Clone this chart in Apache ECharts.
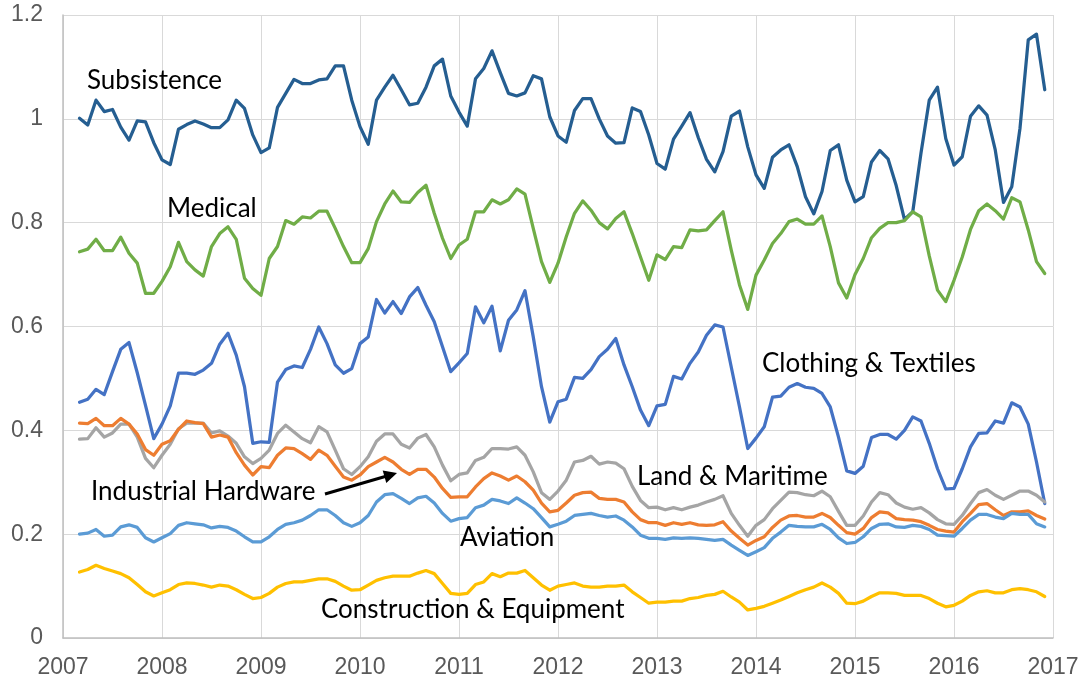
<!DOCTYPE html>
<html lang="en">
<head>
    <meta charset="UTF-8">
    <title>Monthly index by supply chain</title>
    <script src="https://cdn.jsdelivr.net/npm/echarts@6/dist/echarts.min.js"></script>
    <style>
        html, body { margin: 0; padding: 0; background: #fff; }
        #chart { width: 1084px; height: 679px; }
    </style>
</head>
<body>
    <div id="chart"></div>
    <script>
        // monthly values, first point is March 2007
        const startYear = 2007;
        const startMonth = 3;

        const subsistence = [
            1.001, 0.988, 1.036, 1.014, 1.018, 0.984, 0.959, 0.996, 0.994, 0.954, 0.921, 0.912,
            0.980, 0.989, 0.996, 0.990, 0.983, 0.983, 0.998, 1.036, 1.020, 0.969, 0.935, 0.944,
            1.022, 1.049, 1.076, 1.068, 1.068, 1.075, 1.077, 1.102, 1.102, 1.036, 0.985, 0.951,
            1.036, 1.061, 1.084, 1.056, 1.027, 1.030, 1.061, 1.102, 1.115, 1.044, 1.013, 0.986,
            1.077, 1.097, 1.131, 1.089, 1.049, 1.044, 1.050, 1.083, 1.077, 1.004, 0.967, 0.955,
            1.016, 1.039, 1.039, 1.000, 0.967, 0.953, 0.954, 1.021, 1.014, 0.969, 0.914, 0.903,
            0.961, 0.986, 1.012, 0.964, 0.922, 0.898, 0.937, 1.005, 1.015, 0.946, 0.892, 0.866,
            0.926, 0.940, 0.950, 0.908, 0.850, 0.817, 0.860, 0.939, 0.950, 0.882, 0.840, 0.850,
            0.917, 0.939, 0.923, 0.871, 0.806, 0.821, 0.934, 1.036, 1.061, 0.962, 0.911, 0.927,
            1.005, 1.025, 1.007, 0.940, 0.839, 0.869, 0.982, 1.152, 1.163, 1.056
        ];
        const medical = [
            0.744, 0.749, 0.768, 0.746, 0.746, 0.772, 0.741, 0.722, 0.664, 0.664, 0.687, 0.715,
            0.762, 0.725, 0.709, 0.697, 0.754, 0.779, 0.792, 0.768, 0.693, 0.673, 0.660, 0.731,
            0.754, 0.804, 0.797, 0.811, 0.809, 0.822, 0.822, 0.789, 0.754, 0.723, 0.723, 0.750,
            0.802, 0.836, 0.861, 0.840, 0.839, 0.858, 0.872, 0.818, 0.770, 0.731, 0.757, 0.768,
            0.821, 0.821, 0.844, 0.836, 0.844, 0.865, 0.855, 0.789, 0.725, 0.685, 0.722, 0.773,
            0.818, 0.842, 0.824, 0.800, 0.788, 0.808, 0.821, 0.779, 0.734, 0.689, 0.738, 0.729,
            0.754, 0.752, 0.786, 0.784, 0.786, 0.804, 0.821, 0.747, 0.680, 0.633, 0.699, 0.728,
            0.760, 0.779, 0.802, 0.807, 0.797, 0.797, 0.813, 0.754, 0.684, 0.655, 0.700, 0.731,
            0.771, 0.789, 0.800, 0.800, 0.804, 0.821, 0.811, 0.736, 0.670, 0.648, 0.689, 0.734,
            0.787, 0.823, 0.836, 0.823, 0.807, 0.848, 0.840, 0.786, 0.725, 0.702
        ];
        const clothing = [
            0.454, 0.460, 0.479, 0.469, 0.513, 0.556, 0.569, 0.511, 0.448, 0.384, 0.412, 0.447,
            0.510, 0.510, 0.508, 0.516, 0.529, 0.566, 0.587, 0.545, 0.484, 0.375, 0.378, 0.377,
            0.493, 0.517, 0.524, 0.521, 0.556, 0.599, 0.567, 0.526, 0.510, 0.519, 0.567, 0.580,
            0.652, 0.626, 0.648, 0.625, 0.657, 0.675, 0.641, 0.609, 0.561, 0.513, 0.530, 0.548,
            0.638, 0.607, 0.639, 0.553, 0.612, 0.632, 0.669, 0.580, 0.484, 0.416, 0.455, 0.460,
            0.502, 0.500, 0.517, 0.542, 0.556, 0.577, 0.526, 0.484, 0.439, 0.409, 0.447, 0.450,
            0.504, 0.499, 0.529, 0.551, 0.583, 0.603, 0.599, 0.522, 0.445, 0.365, 0.385, 0.407,
            0.464, 0.466, 0.483, 0.490, 0.483, 0.481, 0.471, 0.445, 0.387, 0.322, 0.317, 0.331,
            0.386, 0.392, 0.392, 0.383, 0.400, 0.426, 0.418, 0.375, 0.326, 0.287, 0.288, 0.326,
            0.368, 0.394, 0.395, 0.418, 0.414, 0.453, 0.445, 0.412, 0.339, 0.259
        ];
        const landMaritime = [
            0.383, 0.384, 0.405, 0.387, 0.395, 0.412, 0.412, 0.387, 0.346, 0.328, 0.352, 0.373,
            0.403, 0.414, 0.414, 0.414, 0.395, 0.399, 0.389, 0.375, 0.349, 0.336, 0.346, 0.362,
            0.394, 0.410, 0.397, 0.384, 0.376, 0.407, 0.397, 0.362, 0.326, 0.315, 0.330, 0.349,
            0.379, 0.393, 0.393, 0.373, 0.366, 0.385, 0.392, 0.368, 0.333, 0.303, 0.315, 0.318,
            0.342, 0.348, 0.365, 0.365, 0.364, 0.368, 0.352, 0.320, 0.280, 0.267, 0.283, 0.304,
            0.339, 0.342, 0.350, 0.335, 0.339, 0.337, 0.326, 0.292, 0.265, 0.251, 0.252, 0.247,
            0.251, 0.247, 0.252, 0.256, 0.262, 0.267, 0.274, 0.240, 0.217, 0.196, 0.217, 0.228,
            0.249, 0.265, 0.281, 0.280, 0.276, 0.274, 0.283, 0.272, 0.244, 0.217, 0.217, 0.235,
            0.262, 0.280, 0.276, 0.260, 0.252, 0.248, 0.251, 0.241, 0.228, 0.220, 0.219, 0.236,
            0.259, 0.280, 0.286, 0.275, 0.267, 0.275, 0.283, 0.283, 0.275, 0.262
        ];
        const industrial = [
            0.414, 0.413, 0.423, 0.409, 0.409, 0.423, 0.412, 0.393, 0.363, 0.352, 0.373, 0.380,
            0.402, 0.418, 0.415, 0.413, 0.387, 0.391, 0.387, 0.357, 0.333, 0.314, 0.330, 0.328,
            0.352, 0.366, 0.365, 0.355, 0.344, 0.362, 0.352, 0.331, 0.310, 0.304, 0.314, 0.330,
            0.339, 0.348, 0.339, 0.325, 0.315, 0.325, 0.325, 0.310, 0.288, 0.271, 0.272, 0.272,
            0.291, 0.307, 0.318, 0.312, 0.304, 0.312, 0.301, 0.285, 0.260, 0.243, 0.246, 0.260,
            0.275, 0.280, 0.281, 0.269, 0.267, 0.267, 0.262, 0.243, 0.228, 0.222, 0.222, 0.217,
            0.222, 0.219, 0.222, 0.218, 0.217, 0.218, 0.224, 0.206, 0.192, 0.179, 0.188, 0.195,
            0.213, 0.227, 0.235, 0.236, 0.233, 0.233, 0.240, 0.232, 0.217, 0.203, 0.200, 0.211,
            0.232, 0.243, 0.241, 0.230, 0.228, 0.227, 0.224, 0.217, 0.209, 0.206, 0.204, 0.224,
            0.240, 0.257, 0.259, 0.247, 0.236, 0.243, 0.243, 0.245, 0.236, 0.229
        ];
        const aviation = [
            0.200, 0.202, 0.209, 0.196, 0.198, 0.214, 0.218, 0.213, 0.193, 0.185, 0.193, 0.201,
            0.217, 0.222, 0.220, 0.218, 0.212, 0.215, 0.213, 0.206, 0.195, 0.185, 0.185, 0.195,
            0.209, 0.219, 0.222, 0.227, 0.236, 0.247, 0.247, 0.236, 0.222, 0.215, 0.222, 0.236,
            0.262, 0.276, 0.278, 0.269, 0.259, 0.270, 0.273, 0.260, 0.240, 0.225, 0.230, 0.232,
            0.251, 0.256, 0.267, 0.264, 0.259, 0.270, 0.260, 0.249, 0.232, 0.214, 0.219, 0.225,
            0.236, 0.238, 0.240, 0.236, 0.233, 0.235, 0.227, 0.214, 0.198, 0.192, 0.192, 0.190,
            0.193, 0.192, 0.193, 0.192, 0.190, 0.188, 0.190, 0.179, 0.169, 0.159, 0.166, 0.174,
            0.192, 0.204, 0.217, 0.215, 0.214, 0.214, 0.219, 0.209, 0.193, 0.182, 0.184, 0.195,
            0.211, 0.219, 0.220, 0.214, 0.213, 0.217, 0.215, 0.209, 0.198, 0.197, 0.196, 0.211,
            0.227, 0.238, 0.238, 0.233, 0.230, 0.240, 0.238, 0.238, 0.220, 0.214
        ];
        const construction = [
            0.127, 0.132, 0.140, 0.134, 0.129, 0.124, 0.116, 0.103, 0.089, 0.081, 0.087, 0.093,
            0.103, 0.106, 0.105, 0.102, 0.098, 0.102, 0.100, 0.093, 0.084, 0.076, 0.078, 0.086,
            0.098, 0.105, 0.108, 0.108, 0.111, 0.114, 0.114, 0.109, 0.100, 0.092, 0.093, 0.102,
            0.111, 0.116, 0.119, 0.119, 0.119, 0.125, 0.130, 0.124, 0.105, 0.086, 0.084, 0.086,
            0.103, 0.108, 0.124, 0.118, 0.125, 0.125, 0.130, 0.116, 0.102, 0.092, 0.100, 0.103,
            0.106, 0.100, 0.098, 0.098, 0.100, 0.100, 0.102, 0.089, 0.078, 0.067, 0.069, 0.069,
            0.071, 0.071, 0.076, 0.078, 0.082, 0.084, 0.090, 0.079, 0.069, 0.054, 0.057, 0.061,
            0.067, 0.073, 0.080, 0.087, 0.093, 0.098, 0.106, 0.098, 0.086, 0.067, 0.066, 0.071,
            0.080, 0.087, 0.087, 0.086, 0.082, 0.082, 0.082, 0.076, 0.067, 0.060, 0.063, 0.071,
            0.082, 0.089, 0.091, 0.087, 0.087, 0.093, 0.095, 0.093, 0.089, 0.080
        ];

        const yearTicks = { min: 2007, max: 2017, step: 1 };
        const valueTicks = { min: 0, max: 1.2, step: 0.2 };

        // x position of each month as a decimal year
        function monthX(i) {
            return startYear + (startMonth - 1 + i) / 12;
        }
        function pairs(values) {
            return values.map((v, i) => [monthX(i), v]);
        }

        const seriesDefs = [
            { name: 'Subsistence', data: subsistence, color: '#255e91' },
            { name: 'Medical', data: medical, color: '#70ad47' },
            { name: 'Clothing & Textiles', data: clothing, color: '#4472c4' },
            { name: 'Land & Maritime', data: landMaritime, color: '#a5a5a5' },
            { name: 'Industrial Hardware', data: industrial, color: '#ed7d31' },
            { name: 'Aviation', data: aviation, color: '#5b9bd5' },
            { name: 'Construction & Equipment', data: construction, color: '#ffc000' }
        ];

        const labelFont = '26px Lato, "Open Sans", sans-serif';
        function label(text, x, y) {
            return {
                type: 'text',
                x: x,
                y: y,
                z: 100,
                style: {
                    text: text,
                    font: labelFont,
                    fill: '#000',
                    textAlign: 'left',
                    textVerticalAlign: 'middle',
                    align: 'left',
                    verticalAlign: 'middle'
                }
            };
        }

        const chart = echarts.init(document.getElementById('chart'), null, { renderer: 'canvas' });
        chart.setOption({
            animation: false,
            backgroundColor: '#fff',
            grid: { left: 63, right: 31, top: 15, bottom: 41 },
            xAxis: {
                type: 'value',
                min: yearTicks.min,
                max: yearTicks.max,
                interval: yearTicks.step,
                axisLine: { show: true, lineStyle: { color: '#bfbfbf', width: 1.5 } },
                axisTick: { show: false },
                splitLine: { show: true, lineStyle: { color: '#d9d9d9', width: 1 } },
                axisLabel: {
                    margin: 18,
                    color: '#595959',
                    fontSize: 23,
                    fontFamily: '"Liberation Sans", Arial, sans-serif',
                    formatter: v => String(v)
                }
            },
            yAxis: {
                type: 'value',
                min: valueTicks.min,
                max: valueTicks.max,
                interval: valueTicks.step,
                axisLine: { show: true, lineStyle: { color: '#bfbfbf', width: 1.5 } },
                axisTick: { show: false },
                splitLine: { show: true, lineStyle: { color: '#d9d9d9', width: 1 } },
                axisLabel: {
                    margin: 20,
                    color: '#595959',
                    fontSize: 23,
                    fontFamily: '"Liberation Sans", Arial, sans-serif',
                    formatter: v => String(Math.round(v * 10) / 10)
                }
            },
            series: seriesDefs.map(s => ({
                name: s.name,
                type: 'line',
                data: pairs(s.data),
                showSymbol: false,
                symbol: 'none',
                color: s.color,
                lineStyle: { color: s.color, width: 3.25, join: 'round', cap: 'round' },
                emphasis: { disabled: true }
            })),
            graphic: [
                label('Subsistence', 87, 81),
                label('Medical', 167, 209),
                label('Clothing & Textiles', 762, 364),
                label('Land & Maritime', 637, 477),
                label('Industrial Hardware', 91, 492),
                label('Aviation', 460, 538),
                label('Construction & Equipment', 321, 610),
                // arrow pointing at the orange line
                {
                    type: 'line',
                    z: 100,
                    shape: { x1: 325, y1: 494, x2: 386, y2: 476.2 },
                    style: { stroke: '#000', lineWidth: 3 }
                },
                {
                    type: 'polygon',
                    z: 100,
                    shape: { points: [[397, 473], [386.3, 482.9], [382.7, 470.4]] },
                    style: { fill: '#000' }
                }
            ]
        });
    </script>
</body>
</html>
